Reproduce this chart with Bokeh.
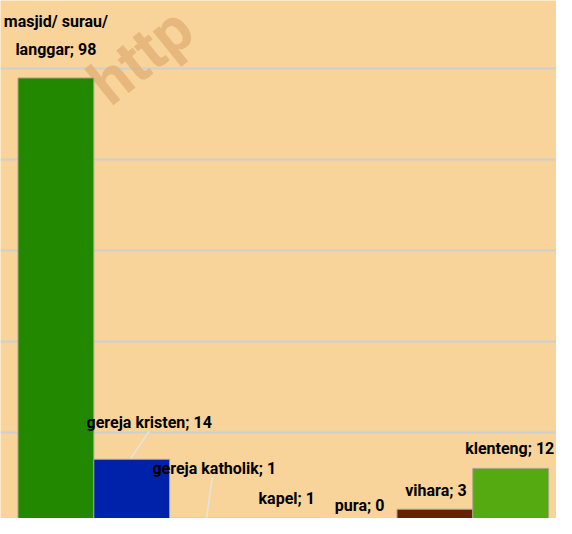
from bokeh.plotting import figure
from bokeh.models import ColumnDataSource, Range1d, Grid, FixedTicker, Label
from bokeh.core.properties import value
from bokeh.embed import file_html
from bokeh.resources import INLINE

# ---- data ----
categories = ["masjid/ surau/ langgar", "gereja kristen", "gereja katholik",
              "kapel", "pura", "vihara", "klenteng"]
display_names = ["masjid/ surau/\nlanggar", "gereja kristen", "gereja katholik",
                 "kapel", "pura", "vihara", "klenteng"]
counts = [98, 14, 1, 1, 0, 3, 12]
y_ticks = [20, 40, 60, 80, 100]

# ---- style ----
BG = "#F8D39A"
bar_colors = ["#228800", "#0022AA", "#E8E0C8", "#A09A88", "#C08040", "#662200", "#55AA11"]
FONT = "Roboto"
W, H = 556, 518

# layout: pixel scale per data unit
px_x = 75.8
px_y = 4.54
x0 = -0.5 - 17.5 / px_x
x1 = x0 + W / px_x
y0 = (522.4 - H) / px_y
y1 = y0 + H / px_y

# label offsets in screen px, relative to (bar centre, bar top)
label_dx = [0, 17.5, 6.8, 3.4, 0.5, 1.0, -1.0]
label_dy = [-42.5, -36.9, -50.2, -20.2, -17.9, -18.9, -19.7]

xs = list(range(len(categories)))
labels = [f"{n}; {c}" for n, c in zip(display_names, counts)]

src = ColumnDataSource(dict(x=xs, count=counts, color=bar_colors, label=labels,
                            dx=label_dx, dy=label_dy))

p = figure(width=W, height=H, x_range=Range1d(x0, x1), y_range=Range1d(y0, y1),
           x_axis_type=None, y_axis_type=None, title=None,
           output_backend="svg", toolbar_location=None, min_border=0,
           background_fill_color=BG, border_fill_color=BG, outline_line_color=None)

p.add_layout(Grid(dimension=1, ticker=FixedTicker(ticks=y_ticks),
                  grid_line_color="#CDD0D2", grid_line_width=2))

# watermark
p.add_layout(Label(x=97, y=H - 90, x_units="screen", y_units="screen", text="http",
                   angle=0.68, text_font=FONT, text_font_style="bold", text_font_size="62px",
                   text_baseline="alphabetic", level="underlay",
                   text_color="#E0AF74", text_alpha=0.75))

p.vbar(x="x", top="count", bottom=0, width=1.0, fill_color="color",
       line_color="#A8A48C", line_width=1, source=src)

# leader lines (bar top -> label), offsets in px converted through the scales
leader_idx = [1, 2]
lead_start = [(17.5, -28.1), (4.9, -41.5)]
lead_end = [(-1.0, -1.0), (-1.0, 0.0)]
p.segment(x0=[xs[i] + s[0] / px_x for i, s in zip(leader_idx, lead_start)],
          y0=[counts[i] - s[1] / px_y for i, s in zip(leader_idx, lead_start)],
          x1=[xs[i] + e[0] / px_x for i, e in zip(leader_idx, lead_end)],
          y1=[counts[i] - e[1] / px_y for i, e in zip(leader_idx, lead_end)],
          line_color="#E4E4E4", line_width=1.5)

p.text(x="x", y="count", text="label", x_offset="dx", y_offset="dy",
       text_align="center", text_baseline="alphabetic", text_font=value(FONT),
       text_font_style="bold", text_font_size="16px", text_color="#000000",
       text_line_height=1.44, source=src)

open("out.html", "w").write(file_html(p, INLINE))
